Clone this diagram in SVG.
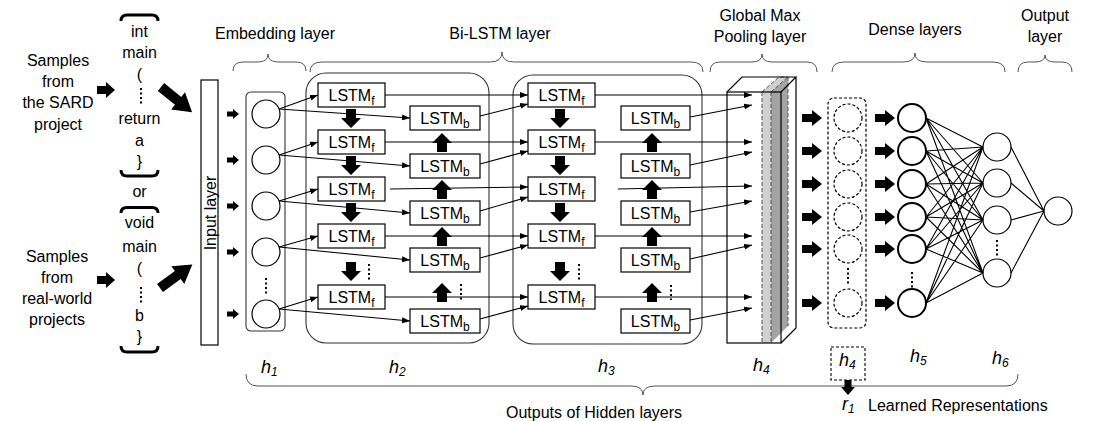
<svg xmlns="http://www.w3.org/2000/svg" width="1107" height="421" viewBox="0 0 1107 421">
<defs>
<style>
text{font-family:"Liberation Sans",Arial,sans-serif;font-size:16px;fill:#000}
.c{text-anchor:middle}
.box{fill:#fff;stroke:#000;stroke-width:1.2}
.grp{fill:none;stroke:#333;stroke-width:1.1}
.brace{fill:none;stroke:#555;stroke-width:1}
.ln{fill:none;stroke:#000;stroke-width:1.1}
.arr{fill:none;stroke:#000;stroke-width:1.1;marker-end:url(#ah)}
.dots{fill:none;stroke:#000;stroke-width:2;stroke-dasharray:2 2.5}
.node{fill:#fff;stroke:#000;stroke-width:1.2}
.h5{fill:#fff;stroke:#000;stroke-width:2}
.dn{fill:#fff;stroke:#000;stroke-width:1.2;stroke-dasharray:3 2}
.it{font-style:italic;font-size:18px}
.sub{font-size:12px}
.brk{fill:none;stroke:#000;stroke-width:3}
.sl{fill:none;stroke:#555;stroke-width:1;stroke-dasharray:4 2}
</style>
<marker id="ah" markerWidth="8" markerHeight="6" refX="8" refY="3" orient="auto" markerUnits="userSpaceOnUse"><path d="M0,0 L8,3 L0,6 Z" fill="#000"/></marker>
<path id="sa" d="M0,-2.5 H6 V-5 L12,0 L6,5 V2.5 H0 Z"/>
<path id="ma" d="M0,-4 H9 V-8 L18,0 L9,8 V4 H0 Z"/>
<path id="ba" d="M0,-4 H10 V-8 L20,0 L10,8 V4 H0 Z"/>
<path id="da" d="M-5,0 H5 V9 H10 L0,19 L-10,9 H-5 Z"/>
<path id="ua" d="M-5,0 H5 V-9 H10 L0,-19 L-10,-9 H-5 Z"/>
<path id="ga" d="M0,-5 H22 V-11 L40,0 L22,11 V5 H0 Z"/>
</defs>
<rect width="1107" height="421" fill="#fff"/>

<!-- top labels and braces -->
<g id="labels">
<text class="c" x="275" y="39">Embedding layer</text>
<text class="c" x="500" y="39">Bi-LSTM layer</text>
<text class="c" x="760" y="21">Global Max</text>
<text class="c" x="760" y="42">Pooling layer</text>
<text class="c" x="915" y="35">Dense layers</text>
<text class="c" x="1045" y="21">Output</text>
<text class="c" x="1045" y="42">layer</text>
<path class="brace" d="M233,71 Q233,62 243,62 L258,62 Q268,62 268,54 Q268,62 278,62 L296,62 Q306,62 306,71"/>
<path class="brace" d="M310,72 Q310,62 322,62 L490,62 Q502,62 502,52 Q502,62 514,62 L691,62 Q703,62 703,72"/>
<path class="brace" d="M710,72 Q710,62 720,62 L752,62 Q762,62 762,54 Q762,62 772,62 L807,62 Q817,62 817,72"/>
<path class="brace" d="M832,72 Q832,62 844,62 L903,62 Q915,62 915,53 Q915,62 927,62 L993,62 Q1005,62 1005,72"/>
<path class="brace" d="M1018,72 Q1018,62 1028,62 L1035,62 Q1045,62 1045,55 Q1045,62 1055,62 L1062,62 Q1072,62 1072,72"/>
</g>

<!-- sources -->
<g id="src1">
<text class="c" x="58" y="66">Samples</text>
<text class="c" x="58" y="87">from</text>
<text class="c" x="58" y="108">the SARD</text>
<text class="c" x="58" y="130">project</text>
</g>
<g id="src2">
<text class="c" x="57" y="262">Samples</text>
<text class="c" x="57" y="283">from</text>
<text class="c" x="57" y="304">real-world</text>
<text class="c" x="57" y="325">projects</text>
</g>

<g id="code1">
<path class="brk" d="M121,21 Q121,15 127,15 L152,15 Q158,15 158,21"/>
<text class="c" x="139.5" y="37">int</text>
<text class="c" x="139.5" y="58">main</text>
<text class="c" x="139.5" y="80">(</text>
<line class="dots" x1="141" y1="88" x2="141" y2="105"/>
<text class="c" x="139.5" y="124">return</text>
<text class="c" x="139.5" y="146">a</text>
<text class="c" x="139.5" y="167">}</text>
<path class="brk" d="M121,170 Q121,176 127,176 L152,176 Q158,176 158,170"/>
</g>
<text id="or" class="c" x="139.5" y="197">or</text>
<g id="code2">
<path class="brk" d="M121,213 Q121,207.5 127,207.5 L152,207.5 Q158,207.5 158,213"/>
<text class="c" x="139.5" y="228">void</text>
<text class="c" x="139.5" y="252">main</text>
<text class="c" x="139.5" y="274">(</text>
<line class="dots" x1="141" y1="287" x2="141" y2="304"/>
<text class="c" x="139.5" y="321">b</text>
<text class="c" x="139.5" y="342">}</text>
<path class="brk" d="M121,346 Q121,352 127,352 L152,352 Q158,352 158,346"/>
</g>

<g id="input">
<rect class="box" x="201" y="80" width="17" height="265"/>
<text class="c" transform="translate(215.5,213) rotate(-90)">Input layer</text>
</g>

<g id="embedding">
<rect class="grp" x="246" y="92" width="39" height="239" rx="5"/>
<circle class="node" cx="266" cy="114" r="14"/>
<circle class="node" cx="266" cy="160" r="14"/>
<circle class="node" cx="266" cy="206" r="14"/>
<circle class="node" cx="266" cy="252" r="14"/>
<circle class="node" cx="266" cy="314" r="14"/>
<line class="dots" x1="266" y1="278" x2="266" y2="294"/>
</g>

<g id="bilstm1">
<rect class="grp" x="306" y="73" width="183" height="270" rx="20"/>
<rect class="box" x="318" y="83" width="67" height="24"/>
<rect class="box" x="318" y="130" width="67" height="24"/>
<rect class="box" x="318" y="177" width="67" height="24"/>
<rect class="box" x="318" y="224" width="67" height="24"/>
<rect class="box" x="318" y="285" width="67" height="24"/>
<text class="c" x="351.5" y="100.5">LSTM<tspan class="sub" dy="4">f</tspan></text>
<text class="c" x="351.5" y="147.5">LSTM<tspan class="sub" dy="4">f</tspan></text>
<text class="c" x="351.5" y="194.5">LSTM<tspan class="sub" dy="4">f</tspan></text>
<text class="c" x="351.5" y="241.5">LSTM<tspan class="sub" dy="4">f</tspan></text>
<text class="c" x="351.5" y="302.5">LSTM<tspan class="sub" dy="4">f</tspan></text>
<rect class="box" x="410" y="106" width="70" height="24"/>
<rect class="box" x="410" y="154" width="70" height="24"/>
<rect class="box" x="410" y="201" width="70" height="24"/>
<rect class="box" x="410" y="248" width="70" height="24"/>
<rect class="box" x="410" y="309" width="70" height="24"/>
<text class="c" x="445" y="123.5">LSTM<tspan class="sub" dy="4">b</tspan></text>
<text class="c" x="445" y="171.5">LSTM<tspan class="sub" dy="4">b</tspan></text>
<text class="c" x="445" y="218.5">LSTM<tspan class="sub" dy="4">b</tspan></text>
<text class="c" x="445" y="265.5">LSTM<tspan class="sub" dy="4">b</tspan></text>
<text class="c" x="445" y="326.5">LSTM<tspan class="sub" dy="4">b</tspan></text>
<line class="dots" x1="369" y1="264" x2="369" y2="280"/>
<line class="dots" x1="461" y1="284" x2="461" y2="300"/>
</g>

<g id="bilstm2">
<rect class="grp" x="513" y="75" width="189" height="269" rx="20"/>
<rect class="box" x="528" y="83" width="67" height="24"/>
<rect class="box" x="528" y="130" width="67" height="24"/>
<rect class="box" x="528" y="177" width="67" height="24"/>
<rect class="box" x="528" y="224" width="67" height="24"/>
<rect class="box" x="528" y="285" width="67" height="24"/>
<text class="c" x="561.5" y="100.5">LSTM<tspan class="sub" dy="4">f</tspan></text>
<text class="c" x="561.5" y="147.5">LSTM<tspan class="sub" dy="4">f</tspan></text>
<text class="c" x="561.5" y="194.5">LSTM<tspan class="sub" dy="4">f</tspan></text>
<text class="c" x="561.5" y="241.5">LSTM<tspan class="sub" dy="4">f</tspan></text>
<text class="c" x="561.5" y="302.5">LSTM<tspan class="sub" dy="4">f</tspan></text>
<rect class="box" x="621" y="106" width="69" height="24"/>
<rect class="box" x="621" y="154" width="69" height="24"/>
<rect class="box" x="621" y="201" width="69" height="24"/>
<rect class="box" x="621" y="248" width="69" height="24"/>
<rect class="box" x="621" y="309" width="69" height="24"/>
<text class="c" x="655.5" y="123.5">LSTM<tspan class="sub" dy="4">b</tspan></text>
<text class="c" x="655.5" y="171.5">LSTM<tspan class="sub" dy="4">b</tspan></text>
<text class="c" x="655.5" y="218.5">LSTM<tspan class="sub" dy="4">b</tspan></text>
<text class="c" x="655.5" y="265.5">LSTM<tspan class="sub" dy="4">b</tspan></text>
<text class="c" x="655.5" y="326.5">LSTM<tspan class="sub" dy="4">b</tspan></text>
<line class="dots" x1="579" y1="264" x2="579" y2="280"/>
<line class="dots" x1="671" y1="285" x2="671" y2="300"/>
</g>

<g id="pooling">
<rect x="727" y="92" width="54" height="251" fill="#fff"/>
<polygon points="727,92 742,77 796,77 781,92" fill="#fff"/>
<polygon points="781,92 796,77 796,328 781,343" fill="#fff"/>
<rect x="762" y="92" width="9" height="251" fill="#d0d0d0"/>
<polygon points="762,92 779,77 788,77 771,92" fill="#d0d0d0"/>
<polygon points="771,92 788,77 788,326 771,343" fill="#a3a3a3"/>
<path class="sl" d="M762,92 V343 M771,92 V343 M788,77 V326 M762,92 L779,77 H788 M771,92 L788,77"/>
<rect x="727" y="92" width="54" height="251" fill="none" stroke="#000" stroke-width="1.2"/>
<path d="M727,92 L742,77 H796 L781,92 M796,77 V328 L781,343" fill="none" stroke="#000" stroke-width="1.2"/>
</g>

<g id="maxpooled">
<rect x="828" y="98" width="38" height="230" rx="6" fill="none" stroke="#000" stroke-width="1.2" stroke-dasharray="3 2"/>
<circle class="dn" cx="848" cy="118" r="14"/>
<circle class="dn" cx="848" cy="151" r="14"/>
<circle class="dn" cx="848" cy="184" r="14"/>
<circle class="dn" cx="848" cy="217" r="14"/>
<circle class="dn" cx="848" cy="249" r="14"/>
<circle class="dn" cx="848" cy="303" r="14"/>
<line class="dots" x1="848" y1="268" x2="848" y2="284"/>
</g>

<g id="dense5">
<circle class="h5" cx="912" cy="118" r="14"/>
<circle class="h5" cx="912" cy="151" r="14"/>
<circle class="h5" cx="912" cy="184" r="14"/>
<circle class="h5" cx="912" cy="217" r="14"/>
<circle class="h5" cx="912" cy="249" r="14"/>
<circle class="h5" cx="912" cy="303" r="14"/>
<line class="dots" x1="912" y1="272" x2="912" y2="288"/>
</g>

<g id="dense6">
<circle class="node" cx="997" cy="147" r="14"/>
<circle class="node" cx="997" cy="183" r="14"/>
<circle class="node" cx="997" cy="220" r="14"/>
<circle class="node" cx="997" cy="273" r="14"/>
<line class="dots" x1="997" y1="240" x2="997" y2="257"/>
</g>

<g id="output">
<circle class="node" cx="1058" cy="211" r="14"/>
</g>

<!-- bottom labels -->
<g id="bottom">
<text class="it" x="261" y="373">h<tspan class="sub" dy="3">1</tspan></text>
<text class="it" x="389" y="373">h<tspan class="sub" dy="3">2</tspan></text>
<text class="it" x="598" y="372">h<tspan class="sub" dy="3">3</tspan></text>
<text class="it" x="753" y="371">h<tspan class="sub" dy="3">4</tspan></text>
<text class="it" x="910" y="362">h<tspan class="sub" dy="3">5</tspan></text>
<text class="it" x="992" y="364">h<tspan class="sub" dy="3">6</tspan></text>
<path class="brace" d="M246,374 Q246,386 258,386 L631,386 Q643,386 643,395 Q643,386 655,386 L1006,386 Q1018,386 1018,374"/>
<text x="506" y="418">Outputs of Hidden layers</text>
</g>
<g id="repr">
<rect x="831" y="347" width="34" height="33" fill="none" stroke="#000" stroke-width="1.1" stroke-dasharray="3 2"/>
<text class="it" x="839" y="366">h<tspan class="sub" dy="3">4</tspan></text>
<path d="M844.5,380 H851.5 V387 H855 L848,395 L841,387 H844.5 Z" fill="#000"/>
<text class="it" x="842" y="410">r<tspan class="sub" dy="3">1</tspan></text>
<text x="868" y="411">Learned Representations</text>
</g>

<!-- connectors -->
<g id="connectors">
<use href="#ma" x="97" y="90"/>
<use href="#ma" x="97" y="280"/>
<use href="#ga" transform="translate(161,87) rotate(39)"/>
<use href="#ga" transform="translate(160,288) rotate(-36)"/>
<use href="#sa" x="227" y="114"/>
<use href="#sa" x="227" y="160"/>
<use href="#sa" x="227" y="206"/>
<use href="#sa" x="227" y="252"/>
<use href="#sa" x="227" y="314"/>

<path class="arr" d="M279,109 L318,95"/>
<path class="arr" d="M279,109 L410,118"/>
<path class="arr" d="M279,155 L318,142"/>
<path class="arr" d="M279,155 L410,166"/>
<path class="arr" d="M279,201 L318,189"/>
<path class="arr" d="M279,201 L410,213"/>
<path class="arr" d="M279,247 L318,236"/>
<path class="arr" d="M279,247 L410,260"/>
<path class="arr" d="M279,309 L318,297"/>
<path class="arr" d="M279,309 L410,321"/>

<path class="arr" d="M385,95 H528"/>
<path class="arr" d="M385,142 H528"/>
<path class="arr" d="M390,189 L528,187"/>
<path class="arr" d="M385,236 H528"/>
<path class="arr" d="M385,297 H528"/>
<path class="arr" d="M480,116 L528,104"/>
<path class="arr" d="M480,164 L528,151"/>
<path class="arr" d="M480,211 L528,197"/>
<path class="arr" d="M480,258 L528,245"/>
<path class="arr" d="M480,319 L528,306"/>

<path class="arr" d="M595,95 H752"/>
<path class="arr" d="M595,142 H752"/>
<path class="arr" d="M618,189 L752,186"/>
<path class="arr" d="M595,236 H752"/>
<path class="arr" d="M595,297 H752"/>
<path class="arr" d="M690,117 L752,105"/>
<path class="arr" d="M690,165 L752,152"/>
<path class="arr" d="M690,212 L752,201"/>
<path class="arr" d="M690,259 L752,245"/>
<path class="arr" d="M690,320 L752,308"/>

<use href="#da" x="351" y="109"/>
<use href="#da" x="351" y="156"/>
<use href="#da" x="351" y="203"/>
<use href="#da" x="351" y="262"/>
<use href="#ua" x="442" y="152"/>
<use href="#ua" x="442" y="199"/>
<use href="#ua" x="442" y="246"/>
<use href="#ua" x="442" y="302"/>
<use href="#da" x="560" y="109"/>
<use href="#da" x="560" y="156"/>
<use href="#da" x="560" y="203"/>
<use href="#da" x="560" y="262"/>
<use href="#ua" x="652" y="152"/>
<use href="#ua" x="652" y="199"/>
<use href="#ua" x="652" y="246"/>
<use href="#ua" x="652" y="302"/>

<use href="#ba" x="802" y="118"/>
<use href="#ba" x="802" y="151"/>
<use href="#ba" x="802" y="184"/>
<use href="#ba" x="802" y="217"/>
<use href="#ba" x="802" y="249"/>
<use href="#ba" x="802" y="303"/>
<use href="#ba" x="875" y="118"/>
<use href="#ba" x="875" y="151"/>
<use href="#ba" x="875" y="184"/>
<use href="#ba" x="875" y="217"/>
<use href="#ba" x="875" y="249"/>
<use href="#ba" x="875" y="303"/>

<path class="ln" d="M926,118 L983,147 M926,118 L983,183 M926,118 L983,220 M926,118 L983,273
M926,151 L983,147 M926,151 L983,183 M926,151 L983,220 M926,151 L983,273
M926,184 L983,147 M926,184 L983,183 M926,184 L983,220 M926,184 L983,273
M926,217 L983,147 M926,217 L983,183 M926,217 L983,220 M926,217 L983,273
M926,249 L983,147 M926,249 L983,183 M926,249 L983,220 M926,249 L983,273
M926,303 L983,147 M926,303 L983,183 M926,303 L983,220 M926,303 L983,273"/>
<path class="ln" d="M1011,147 L1044,211 M1011,183 L1044,211 M1011,220 L1044,211 M1011,273 L1044,211"/>
</g>
</svg>
